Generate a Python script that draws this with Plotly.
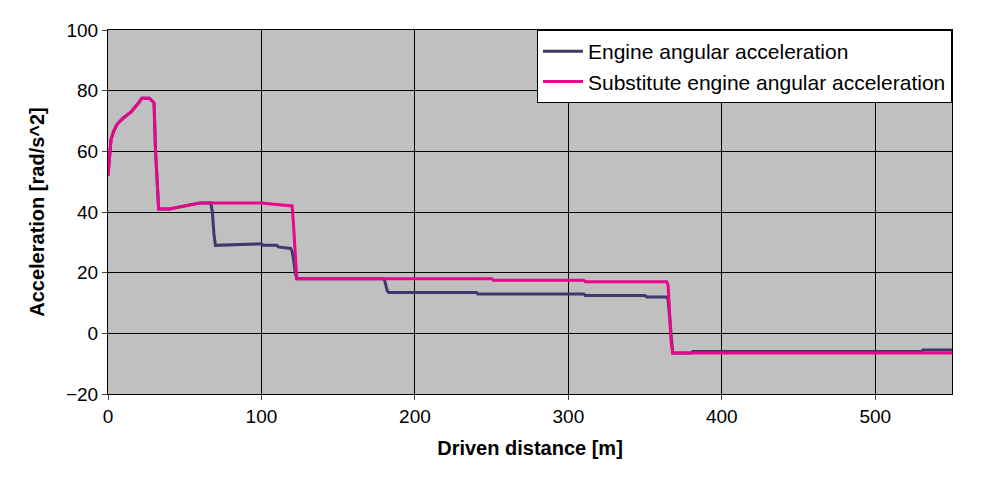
import plotly.graph_objects as go

# ---- data ----
pink_x = [0, 1, 2, 4, 6, 10, 15, 20, 22, 27, 30, 31, 32, 33, 40, 50, 60, 70, 100, 110, 120, 121, 122, 123,
          180, 250, 251, 310, 311, 364, 365, 366, 367, 368, 400, 480, 550]
pink_y = [52, 58, 64, 67, 69, 71, 73, 76, 77.5, 77.5, 76, 60, 48, 41, 41, 42, 43, 43, 43, 42.5, 42, 35, 25, 18,
          18, 18, 17.5, 17.5, 17, 17, 16, 5, -3, -6.5, -6.5, -6.5, -6.5]

dark_x = [0, 1, 2, 4, 6, 10, 15, 20, 22, 27, 30, 31, 32, 33, 40, 50, 60, 67, 68, 69, 70, 100, 101, 110, 111,
          119, 120, 121, 122, 123, 180, 181, 182, 183, 240, 241, 310, 311, 350, 351, 364, 365, 366, 367, 368,
          380, 381, 530, 531, 550]
dark_y = [52, 58, 64, 67, 69, 71, 73, 76, 77.5, 77.5, 76, 60, 48, 41, 41, 42, 43, 43, 40, 33, 29, 29.5, 29, 29,
          28.5, 28, 27, 24, 20, 18, 18, 16, 14, 13.5, 13.5, 13, 13, 12.5, 12.5, 12, 12, 11, 5, -3, -6.5,
          -6.5, -6, -6, -5.5, -5.5]

x_ticks = [0, 100, 200, 300, 400, 500]
y_ticks = [-20, 0, 20, 40, 60, 80, 100]

fig = go.Figure()
fig.add_trace(go.Scatter(x=dark_x, y=dark_y, mode="lines", name="Engine angular acceleration",
                         line=dict(color="#3d3a6b", width=3)))
fig.add_trace(go.Scatter(x=pink_x, y=pink_y, mode="lines", name="Substitute engine angular acceleration",
                         line=dict(color="#e8068c", width=3)))

fig.update_layout(
    width=981, height=494,
    margin=dict(l=100, r=37, t=22, b=108),
    paper_bgcolor="white", plot_bgcolor="#c0c0c0",
    font=dict(family="Liberation Sans, Arial", size=19, color="black"),
    showlegend=True,
    legend=dict(x=1, y=1, xanchor="right", yanchor="top", bgcolor="white",
                bordercolor="black", borderwidth=1, font=dict(size=21),
                itemwidth=40),
    xaxis=dict(range=[0, 550], tickvals=x_ticks, showgrid=True, gridcolor="black", gridwidth=1,
               linecolor="black", mirror=True, showline=True, zeroline=False, ticks="outside",
               title=dict(text="<b>Driven distance [m]</b>", font=dict(size=20))),
    yaxis=dict(range=[-20, 100], tickvals=y_ticks, showgrid=True, gridcolor="black", gridwidth=1,
               linecolor="black", mirror=True, showline=True, zeroline=False, ticks="outside",
               title=dict(text="<b>Acceleration [rad/s^2]</b>", font=dict(size=20))),
)

fig.write_html("out.html")
